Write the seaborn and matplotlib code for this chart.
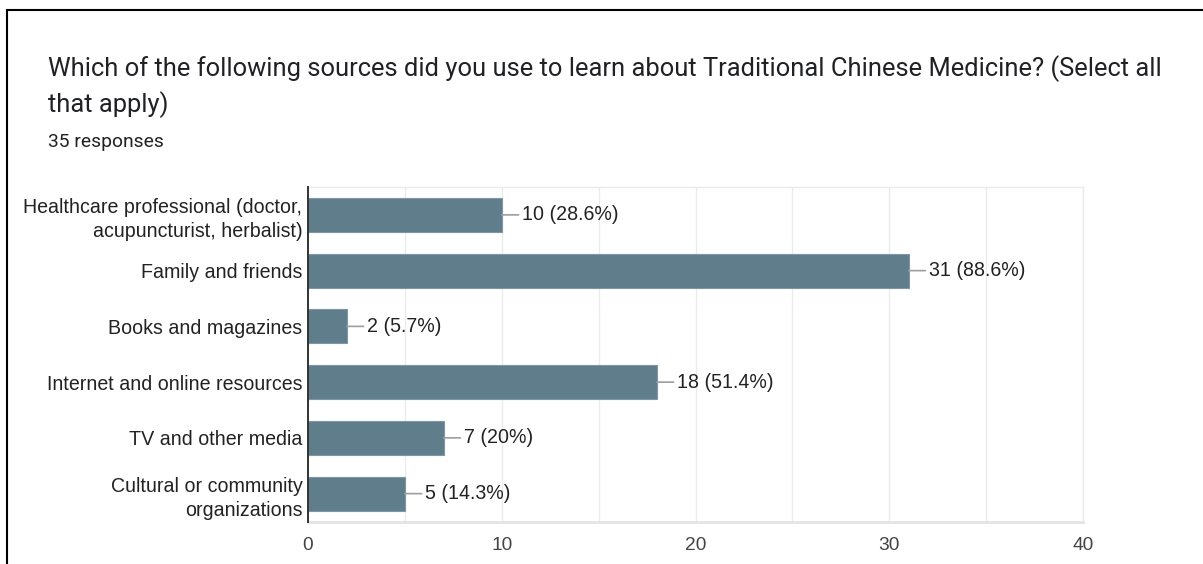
import matplotlib
matplotlib.use("Agg")
import matplotlib.pyplot as plt
from matplotlib.patches import Rectangle
import seaborn as sns
import pandas as pd

# Survey data
sources = [
    "Healthcare professional (doctor,\nacupuncturist, herbalist)",
    "Family and friends",
    "Books and magazines",
    "Internet and online resources",
    "TV and other media",
    "Cultural or community\norganizations",
]
counts = [10, 31, 2, 18, 7, 5]
percent_labels = ["28.6%", "88.6%", "5.7%", "51.4%", "20%", "14.3%"]
x_ticks = [0, 10, 20, 30, 40]

title_line1 = "Which of the following sources did you use to learn about Traditional Chinese Medicine? (Select all"
title_line2 = "that apply)"
subtitle = "35 responses"

sns.set_theme(style="white")
plt.rcParams["font.family"] = ["Liberation Sans", "DejaVu Sans"]

W, H, DPI = 1203, 564, 100
fig = plt.figure(figsize=(W / DPI, H / DPI), dpi=DPI)
fig.patch.set_facecolor("white")

def px(x, y):
    return x / W, 1 - y / H

# Card frame
fig.patches.append(Rectangle(px(7, 700), (W + 50) / W, 690 / H,
                             transform=fig.transFigure, fill=False,
                             edgecolor="black", linewidth=1.5, zorder=0))

# Heading
fig.text(*px(48, 69), title_line1, fontfamily="Roboto", fontsize=18.38,
         color="#202124", va="center", ha="left")
fig.text(*px(48, 105), title_line2, fontfamily="Roboto", fontsize=18.38,
         color="#202124", va="center", ha="left")
fig.text(*px(48, 142), subtitle, fontfamily="Roboto", fontsize=13.9,
         color="#202124", va="center", ha="left")

left, right, top, bottom = 308, 1083, 187, 521.5
ax = fig.add_axes([left / W, 1 - bottom / H, (right - left) / W, (bottom - top) / H])

df = pd.DataFrame({"source": sources, "count": counts})
sns.barplot(data=df, x="count", y="source", orient="h", color="#607d8b",
            width=0.61, edgecolor="#7f97a2", linewidth=0.8, saturation=1,
            ax=ax, zorder=3)

ax.set_xlim(0, 40)
ax.set_ylim(len(sources) - 0.5, -0.5)
ax.set_xticks(x_ticks)
ax.set_xticks([5, 15, 25, 35], minor=True)
ax.grid(True, axis="x", which="both", color="#ebebeb", linewidth=1.0, zorder=0)
ax.set_axisbelow(True)
ax.set_xlabel("")
ax.set_ylabel("")

ax.tick_params(axis="x", which="both", length=0, pad=11.5, labelsize=13.8, labelcolor="#444444")
ax.tick_params(axis="y", length=0, pad=4, labelsize=14.1, labelcolor="#222222")
for lbl in ax.get_yticklabels():
    lbl.set_linespacing(1.37)

for side in ("top", "right"):
    ax.spines[side].set_color("#ebebeb")
    ax.spines[side].set_linewidth(1.0)
ax.spines["bottom"].set_color("#e3e3e3")
ax.spines["bottom"].set_linewidth(2.0)
ax.spines["left"].set_color("#333333")
ax.spines["left"].set_linewidth(1.4)
ax.spines["left"].set_zorder(5)

# Value callouts with leader lines
for i, (c, p) in enumerate(zip(counts, percent_labels)):
    ax.annotate(f"{c} ({p})", xy=(c, i), xytext=(14.5, 0), textcoords="offset points",
                ha="left", va="center", fontsize=14.1, color="#222222",
                arrowprops=dict(arrowstyle="-", color="#9e9e9e", lw=1.2,
                                shrinkA=0, shrinkB=0, relpos=(0, 0.5)),
                zorder=6)

fig.savefig("out.png", dpi=DPI, facecolor="white")
